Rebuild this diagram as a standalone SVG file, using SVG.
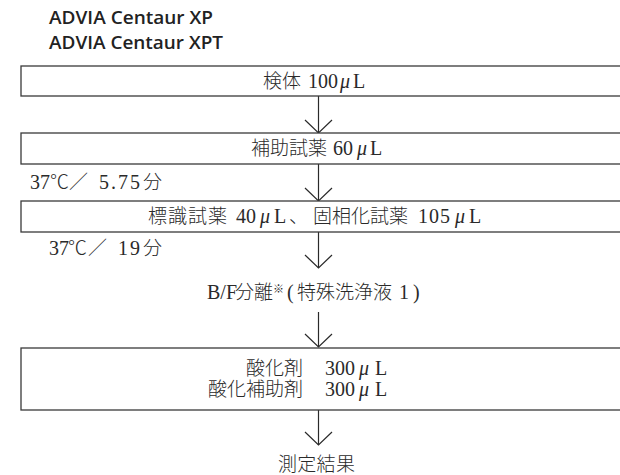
<svg xmlns="http://www.w3.org/2000/svg" width="620" height="475" viewBox="0 0 620 475">
<style>
.hdr{font-family:"Open Sans","Liberation Sans",sans-serif;font-weight:600;font-size:18px;fill:#222}
.t{font-family:"Liberation Serif","Noto Sans CJK JP",serif;font-size:19px;font-weight:300;fill:#2a2a2a}
.n{font-size:20px;font-weight:400}
.mu{font-style:italic;font-size:20px;font-weight:400}
.cj{font-family:"Noto Sans CJK JP",sans-serif;font-weight:300}
.box{fill:#fff;stroke:#3a3a3a;stroke-width:1.3}
.conn{stroke:#2a2a2a;stroke-width:1.2;fill:none;marker-end:url(#chev)}
</style>
<defs>
<marker id="chev" viewBox="-15 -15 30 30" markerUnits="userSpaceOnUse" markerWidth="30" markerHeight="30" refX="0" refY="0" orient="auto" overflow="visible">
<path d="M-13,-13.5 L0,0 L-13,13.5" fill="none" stroke="#2a2a2a" stroke-width="1.2"/>
</marker>
</defs>
<rect width="620" height="475" fill="#fff"/>
<g id="header">
<text class="hdr" x="49" y="24" textLength="164" lengthAdjust="spacingAndGlyphs">ADVIA Centaur XP</text>
<text class="hdr" x="49" y="49" textLength="174" lengthAdjust="spacingAndGlyphs">ADVIA Centaur XPT</text>
</g>
<g id="connectors">
<line class="conn" x1="318.5" y1="96" x2="318.5" y2="133"/>
<line class="conn" x1="318.5" y1="164" x2="318.5" y2="201"/>
<line class="conn" x1="318.5" y1="232" x2="318.5" y2="268"/>
<line class="conn" x1="318.5" y1="312" x2="318.5" y2="347"/>
<line class="conn" x1="318.5" y1="410" x2="318.5" y2="445"/>
</g>
<g id="node-sample">
<rect class="box" x="21" y="66" width="620" height="30"/>
<text class="t" y="88"><tspan x="263">検体</tspan><tspan class="n" x="308">100</tspan><tspan class="mu" x="340">μ</tspan><tspan class="n" x="353">L</tspan></text>
</g>
<g id="node-aux">
<rect class="box" x="21" y="133" width="620" height="31"/>
<text class="t" y="155"><tspan x="251">補助試薬</tspan><tspan class="n" x="333">60</tspan><tspan class="mu" x="357">μ</tspan><tspan class="n" x="370">L</tspan></text>
</g>
<g id="label-inc1">
<text class="t" y="189"><tspan class="n" x="30">37</tspan><tspan class="cj" x="50">℃</tspan><tspan class="cj" x="69">／</tspan><tspan class="n" x="99" letter-spacing="2">5.75</tspan><tspan x="143">分</tspan></text>
</g>
<g id="node-reagents">
<rect class="box" x="21" y="201" width="620" height="31"/>
<text class="t" y="223"><tspan x="148" letter-spacing="1">標識試薬</tspan><tspan class="n" x="236">40</tspan><tspan class="mu" x="260">μ</tspan><tspan class="n" x="274">L</tspan><tspan x="289">、</tspan><tspan x="313">固相化試薬</tspan><tspan class="n" x="418" letter-spacing="1">105</tspan><tspan class="mu" x="455">μ</tspan><tspan class="n" x="469">L</tspan></text>
</g>
<g id="label-inc2">
<text class="t" y="255"><tspan class="n" x="49">37</tspan><tspan class="cj" x="68">℃</tspan><tspan class="cj" x="88">／</tspan><tspan class="n" x="118" letter-spacing="2">19</tspan><tspan x="143">分</tspan></text>
</g>
<g id="node-bf">
<text class="t" y="299"><tspan class="n" x="207">B/F</tspan><tspan x="235">分離</tspan><tspan x="273" font-size="11" dy="-6">※</tspan><tspan class="n" x="287" dy="6">(</tspan><tspan x="297">特殊洗浄液</tspan><tspan class="n" x="399">1</tspan><tspan class="n" x="413">)</tspan></text>
</g>
<g id="node-oxid">
<rect class="box" x="21" y="348" width="620" height="62"/>
<text class="t" x="303" y="375" text-anchor="end">酸化剤</text>
<text class="t" y="375"><tspan class="n" x="325">300</tspan><tspan class="mu" x="359">μ</tspan><tspan class="n" x="375">L</tspan></text>
<text class="t" x="303" y="396" text-anchor="end">酸化補助剤</text>
<text class="t" y="396"><tspan class="n" x="325">300</tspan><tspan class="mu" x="359">μ</tspan><tspan class="n" x="375">L</tspan></text>
</g>
<g id="node-result">
<text class="t" x="278" y="471" letter-spacing="0.3">測定結果</text>
</g>
</svg>
